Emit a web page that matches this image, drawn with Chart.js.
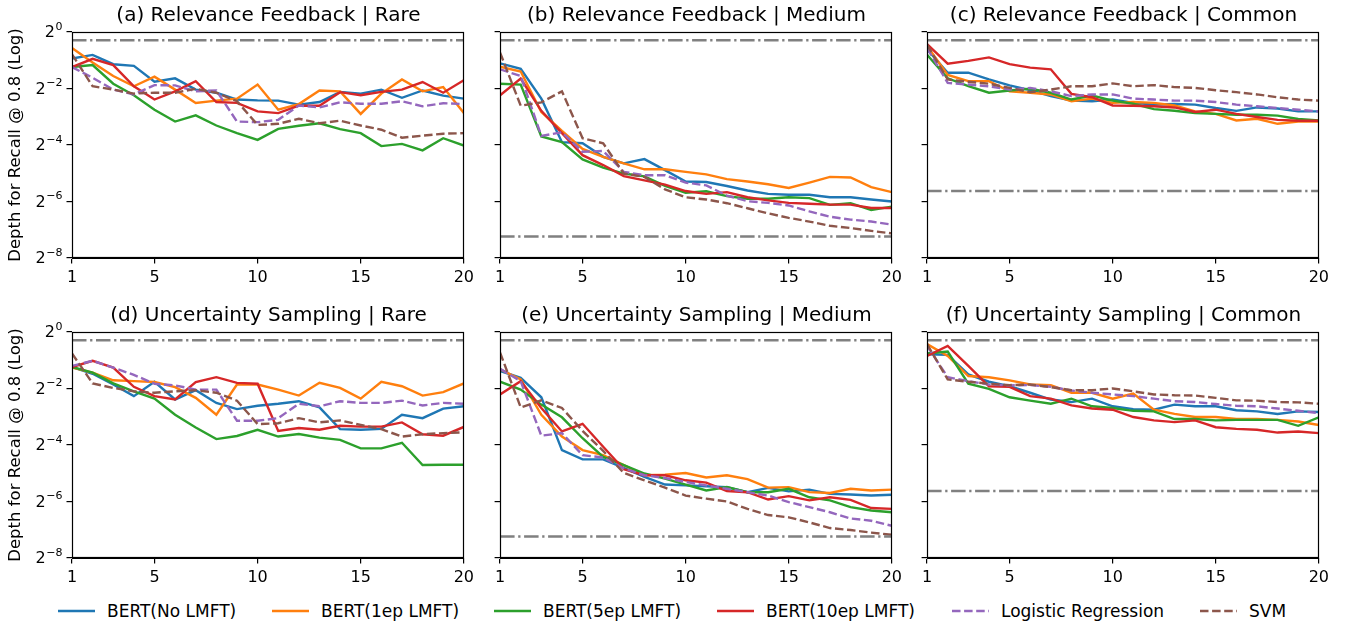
<!DOCTYPE html>
<html>
<head>
<meta charset="utf-8">
<script src="https://cdn.jsdelivr.net/npm/chart.js@4"></script>
<style>
  body { margin: 0; background: #fff; font-family: 'DejaVu Sans', sans-serif; }
  #wrap { position: relative; width: 1358px; height: 624px; }
  canvas { position: absolute; }
  .ptitle { position: absolute; font-size: 20px; line-height: 24px; text-align: center; color: #000; white-space: nowrap; }
  .leg { position: absolute; top: 601px; height: 20px; font-size: 17px; line-height: 20px; color: #000; white-space: nowrap; }
  .leg svg { position: absolute; left: 0; top: 0; }
  .leg span { position: absolute; left: 49px; top: 0; }
</style>
</head>
<body>
<div id="wrap"></div>
<script>
// rounds on the x axis
const rounds = [1, 2, 3, 4, 5, 6, 7, 8, 9, 10, 11, 12, 13, 14, 15, 16, 17, 18, 19, 20];
const xTicks = [1, 5, 10, 15, 20];
// y values are log2(depth); tick labels are 2^exp
const yTicks = [-8, -6, -4, -2, 0];
const yTickExps = ['−8', '−6', '−4', '−2', '0'];

const seriesNames = ['BERT(No LMFT)', 'BERT(1ep LMFT)', 'BERT(5ep LMFT)', 'BERT(10ep LMFT)', 'Logistic Regression', 'SVM'];

// reference lines (log2)
const upperRef = -0.29;
const lowerRefMedium = -7.24;
const lowerRefCommon = -5.63;

// (a) Relevance Feedback | Rare
const aNo   = [-0.94,-0.81,-1.14,-1.20,-1.76,-1.64,-2.04,-2.15,-2.39,-2.42,-2.43,-2.57,-2.48,-2.12,-2.18,-2.04,-2.33,-2.07,-2.25,-2.36];
const a1ep  = [-0.57,-1.08,-1.56,-1.92,-1.58,-2.04,-2.51,-2.43,-2.36,-1.86,-2.75,-2.55,-2.07,-2.10,-2.90,-2.18,-1.68,-2.10,-1.95,-2.87];
const a5ep  = [-1.24,-1.17,-1.83,-2.24,-2.75,-3.17,-2.95,-3.31,-3.58,-3.82,-3.43,-3.32,-3.23,-3.44,-3.58,-4.04,-3.96,-4.19,-3.76,-4.02];
const a10ep = [-1.24,-0.95,-1.17,-1.92,-2.39,-2.10,-1.74,-2.48,-2.51,-2.81,-2.87,-2.61,-2.61,-2.13,-2.24,-2.12,-2.04,-1.77,-2.15,-1.71];
const aLr   = [-1.24,-1.62,-2.04,-2.21,-1.88,-1.89,-2.10,-2.07,-3.17,-3.19,-3.11,-2.60,-2.67,-2.49,-2.54,-2.54,-2.45,-2.63,-2.52,-2.55];
const aSvm  = [-0.79,-1.92,-2.04,-2.18,-2.15,-2.15,-2.01,-2.15,-2.45,-3.29,-3.25,-3.07,-3.23,-3.14,-3.31,-3.46,-3.74,-3.67,-3.60,-3.58];

// (b) Relevance Feedback | Medium
const bNo   = [-1.11,-1.30,-2.36,-3.90,-3.94,-4.42,-4.65,-4.50,-4.89,-5.29,-5.31,-5.45,-5.61,-5.73,-5.76,-5.76,-5.85,-5.85,-5.93,-6.00];
const b1ep  = [-1.23,-1.40,-2.83,-3.50,-4.14,-4.42,-4.65,-4.86,-4.86,-4.95,-5.04,-5.21,-5.29,-5.39,-5.52,-5.33,-5.13,-5.15,-5.49,-5.67];
const b5ep  = [-1.83,-1.86,-3.70,-3.90,-4.51,-4.80,-5.01,-5.11,-5.45,-5.69,-5.64,-5.81,-5.90,-5.90,-5.85,-5.88,-6.12,-6.06,-6.30,-6.18];
const b10ep = [-2.24,-1.65,-2.79,-3.58,-4.36,-4.71,-5.10,-5.25,-5.40,-5.63,-5.73,-5.67,-5.85,-5.96,-6.05,-6.08,-6.11,-6.11,-6.23,-6.23];
const bLr   = [-1.32,-1.56,-3.68,-3.55,-4.24,-4.21,-4.95,-5.07,-5.07,-5.33,-5.43,-5.79,-5.99,-6.05,-6.14,-6.35,-6.54,-6.64,-6.71,-6.82];
const bSvm  = [-0.73,-2.61,-2.49,-2.10,-3.76,-3.94,-5.01,-5.13,-5.57,-5.85,-5.93,-6.06,-6.24,-6.42,-6.58,-6.71,-6.86,-6.94,-7.04,-7.13];

// (c) Relevance Feedback | Common
const cNo   = [-0.61,-1.44,-1.44,-1.68,-1.89,-2.06,-2.27,-2.43,-2.45,-2.39,-2.51,-2.57,-2.55,-2.57,-2.69,-2.79,-2.67,-2.71,-2.81,-2.81];
const c1ep  = [-0.49,-1.52,-1.74,-1.74,-2.10,-2.15,-2.21,-2.45,-2.36,-2.51,-2.48,-2.51,-2.60,-2.81,-2.90,-3.13,-3.07,-3.25,-3.17,-3.17];
const c5ep  = [-0.81,-1.64,-1.92,-2.15,-2.07,-2.01,-2.15,-2.39,-2.25,-2.43,-2.54,-2.73,-2.79,-2.87,-2.90,-2.93,-2.93,-2.96,-3.08,-3.13];
const c10ep = [-0.43,-1.12,-1.02,-0.90,-1.14,-1.26,-1.32,-2.19,-2.31,-2.60,-2.61,-2.63,-2.67,-2.83,-2.75,-2.90,-3.01,-3.11,-3.14,-3.14];
const cLr   = [-0.57,-1.80,-1.86,-1.92,-2.04,-1.98,-2.10,-2.27,-2.21,-2.21,-2.36,-2.39,-2.43,-2.43,-2.48,-2.57,-2.63,-2.69,-2.75,-2.81];
const cSvm  = [-0.45,-1.68,-1.76,-1.83,-1.98,-2.13,-2.04,-1.92,-1.92,-1.82,-1.92,-1.88,-1.95,-1.98,-2.06,-2.13,-2.21,-2.31,-2.39,-2.43];

// (d) Uncertainty Sampling | Rare
const dNo   = [-1.24,-1.48,-1.86,-2.27,-1.76,-2.39,-2.06,-2.51,-2.73,-2.61,-2.54,-2.45,-2.67,-3.44,-3.46,-3.43,-2.93,-3.05,-2.71,-2.63];
const d1ep  = [-1.26,-1.44,-1.71,-1.74,-1.77,-1.95,-2.33,-2.93,-1.86,-1.86,-2.04,-2.25,-1.80,-1.98,-2.36,-1.76,-1.92,-2.25,-2.13,-1.82];
const d5ep  = [-1.24,-1.44,-1.82,-2.10,-2.36,-2.93,-3.38,-3.79,-3.68,-3.46,-3.70,-3.61,-3.74,-3.82,-4.12,-4.12,-3.92,-4.71,-4.70,-4.70];
const d10ep = [-1.24,-1.02,-1.26,-1.94,-2.27,-2.39,-1.77,-1.60,-1.80,-1.83,-3.50,-3.40,-3.46,-3.32,-3.35,-3.35,-3.20,-3.62,-3.67,-3.36];
const dLr   = [-1.20,-1.02,-1.26,-1.52,-1.83,-1.89,-2.04,-2.04,-3.14,-3.14,-3.05,-2.54,-2.63,-2.45,-2.51,-2.51,-2.43,-2.60,-2.51,-2.54];
const dSvm  = [-0.76,-1.82,-1.98,-2.10,-2.15,-2.10,-2.06,-2.15,-2.43,-3.26,-3.23,-3.05,-3.20,-3.13,-3.29,-3.44,-3.70,-3.62,-3.58,-3.55];

// (e) Uncertainty Sampling | Medium
const eNo   = [-1.38,-1.62,-2.31,-4.18,-4.51,-4.51,-4.81,-5.13,-5.40,-5.43,-5.46,-5.49,-5.67,-5.52,-5.64,-5.58,-5.73,-5.75,-5.79,-5.76];
const e1ep  = [-1.32,-1.68,-2.93,-3.70,-4.18,-4.36,-4.71,-5.07,-5.05,-4.99,-5.15,-5.07,-5.21,-5.51,-5.49,-5.67,-5.70,-5.55,-5.61,-5.58];
const e5ep  = [-1.76,-2.04,-2.57,-3.02,-3.76,-4.42,-4.71,-5.01,-5.19,-5.40,-5.61,-5.49,-5.67,-5.67,-5.55,-5.85,-5.96,-6.20,-6.32,-6.38];
const e10ep = [-2.21,-1.74,-2.69,-3.52,-3.25,-4.06,-4.86,-5.07,-5.07,-5.25,-5.33,-5.63,-5.67,-5.93,-5.81,-5.96,-5.85,-5.94,-6.23,-6.26];
const eLr   = [-1.30,-1.74,-3.67,-3.58,-4.36,-4.44,-4.83,-5.07,-5.17,-5.31,-5.43,-5.55,-5.67,-5.79,-6.02,-6.20,-6.38,-6.60,-6.68,-6.86];
const eSvm  = [-0.73,-2.67,-2.42,-2.69,-3.50,-4.21,-4.99,-5.25,-5.51,-5.79,-5.90,-6.00,-6.26,-6.48,-6.56,-6.74,-6.94,-7.01,-7.10,-7.18];

// (f) Uncertainty Sampling | Common
const fNo   = [-0.79,-0.81,-1.50,-1.76,-1.92,-2.15,-2.39,-2.48,-2.36,-2.63,-2.73,-2.75,-2.57,-2.63,-2.63,-2.77,-2.81,-2.90,-2.81,-2.83];
const f1ep  = [-0.43,-0.85,-1.56,-1.60,-1.71,-1.86,-1.88,-2.15,-2.15,-2.36,-2.18,-2.75,-2.90,-3.01,-3.01,-3.08,-3.08,-3.11,-3.17,-3.29];
const f5ep  = [-0.76,-0.69,-1.83,-2.01,-2.31,-2.43,-2.54,-2.36,-2.63,-2.69,-2.79,-2.81,-3.08,-3.08,-3.13,-3.11,-3.11,-3.11,-3.32,-3.02];
const f10ep = [-0.85,-0.49,-1.20,-1.92,-1.94,-2.27,-2.36,-2.60,-2.71,-2.75,-3.01,-3.13,-3.19,-3.13,-3.37,-3.43,-3.46,-3.56,-3.52,-3.58];
const fLr   = [-0.49,-1.60,-1.74,-1.86,-1.89,-1.88,-1.94,-2.07,-2.15,-2.21,-2.27,-2.36,-2.45,-2.48,-2.55,-2.61,-2.63,-2.71,-2.79,-2.87];
const fSvm  = [-0.43,-1.68,-1.76,-1.83,-1.88,-1.86,-1.95,-2.06,-2.06,-2.00,-2.10,-2.21,-2.24,-2.25,-2.33,-2.42,-2.43,-2.48,-2.49,-2.54];

const colors = ['#1f77b4', '#ff7f0e', '#2ca02c', '#d62728', '#9467bd', '#8c564b'];
const dashes = [[], [], [], [], [8.5, 3.6], [8.5, 3.6]];
const dashDot = [14.5, 3.6, 2.3, 3.6];

const panels = [
  { title: '(a) Relevance Feedback | Rare',      col: 0, row: 0, series: [aNo, a1ep, a5ep, a10ep, aLr, aSvm], lower: null },
  { title: '(b) Relevance Feedback | Medium',    col: 1, row: 0, series: [bNo, b1ep, b5ep, b10ep, bLr, bSvm], lower: lowerRefMedium },
  { title: '(c) Relevance Feedback | Common',    col: 2, row: 0, series: [cNo, c1ep, c5ep, c10ep, cLr, cSvm], lower: lowerRefCommon },
  { title: '(d) Uncertainty Sampling | Rare',    col: 0, row: 1, series: [dNo, d1ep, d5ep, d10ep, dLr, dSvm], lower: null },
  { title: '(e) Uncertainty Sampling | Medium',  col: 1, row: 1, series: [eNo, e1ep, e5ep, e10ep, eLr, eSvm], lower: lowerRefMedium },
  { title: '(f) Uncertainty Sampling | Common',  col: 2, row: 1, series: [fNo, f1ep, f5ep, f10ep, fLr, fSvm], lower: lowerRefCommon }
];

const plotLefts = [72, 500, 927];
const plotTops = [32, 332];
const plotW = 393, plotH = 226;
const padTop = 10, padRight = 14, xAxisH = 34;
const tickLen = 5.5;

Chart.defaults.font.family = "'DejaVu Sans', sans-serif";
Chart.defaults.color = '#000';

// black box round the plot area, like matplotlib spines
const framePlugin = {
  id: 'frame',
  afterDraw(chart) {
    const a = chart.chartArea;
    const ctx = chart.ctx;
    ctx.save();
    ctx.strokeStyle = '#000';
    ctx.lineWidth = 1.2;
    ctx.strokeRect(Math.round(a.left) + 0.5, Math.round(a.top) + 0.5,
                   Math.round(a.right - a.left) - 1, Math.round(a.bottom - a.top) - 1);
    ctx.restore();
  }
};

// y tick labels written as 2 with a raised exponent
const powLabels = {
  id: 'powLabels',
  afterDraw(chart, args, opts) {
    if (!opts.show) return;
    const ys = chart.scales.y;
    const ctx = chart.ctx;
    const right = chart.chartArea.left - tickLen - 4;
    ctx.save();
    ctx.fillStyle = '#000';
    ctx.textBaseline = 'middle';
    yTicks.forEach((v, i) => {
      const y = ys.getPixelForValue(v);
      ctx.font = "11px 'DejaVu Sans'";
      const wSup = ctx.measureText(yTickExps[i]).width;
      ctx.font = "16px 'DejaVu Sans'";
      const wBase = ctx.measureText('2').width;
      const x0 = right - wSup - wBase - 0.5;
      ctx.textAlign = 'left';
      ctx.fillText('2', x0, y + 1);
      ctx.font = "11px 'DejaVu Sans'";
      ctx.fillText(yTickExps[i], x0 + wBase + 0.5, y - 5);
    });
    ctx.restore();
  }
};

const wrap = document.getElementById('wrap');

panels.forEach(p => {
  const isLeft = p.col === 0;
  const yAxisW = isLeft ? 72 : 10;
  const left = plotLefts[p.col] - yAxisW;
  const top = plotTops[p.row] - padTop;

  const cv = document.createElement('canvas');
  cv.width = yAxisW + plotW + padRight;
  cv.height = padTop + plotH + xAxisH;
  cv.style.left = left + 'px';
  cv.style.top = top + 'px';
  wrap.appendChild(cv);

  const t = document.createElement('div');
  t.className = 'ptitle';
  t.textContent = p.title;
  t.style.left = plotLefts[p.col] + 'px';
  t.style.width = plotW + 'px';
  t.style.top = (plotTops[p.row] - 30) + 'px';
  wrap.appendChild(t);

  const datasets = p.series.map((vals, i) => ({
    label: seriesNames[i],
    data: rounds.map((r, k) => ({ x: r, y: vals[k] })),
    borderColor: colors[i],
    borderWidth: 2.4,
    borderDash: dashes[i],
    pointRadius: 0,
    tension: 0,
    fill: false,
    order: 10 - i
  }));

  const refs = [upperRef];
  if (p.lower !== null) refs.push(p.lower);
  refs.forEach(v => {
    datasets.push({
      label: 'ref',
      data: [{ x: rounds[0], y: v }, { x: rounds[rounds.length - 1], y: v }],
      borderColor: '#808080',
      borderWidth: 2.4,
      borderDash: dashDot,
      pointRadius: 0,
      order: 1
    });
  });

  new Chart(cv, {
    type: 'line',
    data: { datasets },
    options: {
      responsive: false,
      animation: false,
      events: [],
      layout: { padding: { top: padTop, right: padRight, left: 0, bottom: 0 } },
      plugins: {
        legend: { display: false },
        tooltip: { enabled: false },
        powLabels: { show: isLeft }
      },
      scales: {
        x: {
          type: 'linear',
          min: 1,
          max: 20,
          afterBuildTicks: s => { s.ticks = xTicks.map(v => ({ value: v })); },
          afterFit: s => { s.height = xAxisH; },
          grid: { drawOnChartArea: false, drawTicks: true, tickLength: tickLen, color: '#000', lineWidth: 1.2 },
          border: { display: true, color: '#000' },
          ticks: { font: { size: 16 }, padding: 5, maxRotation: 0, callback: v => String(v) }
        },
        y: {
          type: 'linear',
          min: -8,
          max: 0,
          afterBuildTicks: s => { s.ticks = yTicks.map(v => ({ value: v })); },
          afterFit: s => { s.width = yAxisW; },
          grid: { drawOnChartArea: false, drawTicks: true, tickLength: tickLen, color: '#000', lineWidth: 1.2 },
          border: { display: true, color: '#000' },
          ticks: { display: false },
          title: {
            display: isLeft,
            text: 'Depth for Recall @ 0.8 (Log)',
            font: { size: 16.5 },
            padding: { top: 6, bottom: 2 }
          }
        }
      }
    },
    plugins: [framePlugin, powLabels]
  });
});

// legend row
const legendX = [58, 272, 494, 717, 952, 1200];
seriesNames.forEach((name, i) => {
  const d = document.createElement('div');
  d.className = 'leg';
  d.style.left = legendX[i] + 'px';
  const dash = dashes[i].length ? ' stroke-dasharray="' + dashes[i].join(' ') + '"' : '';
  d.innerHTML = '<svg width="38" height="20"><line x1="0" y1="10" x2="37" y2="10" stroke="' + colors[i] +
    '" stroke-width="2.4"' + dash + '/></svg>';
  const s = document.createElement('span');
  s.textContent = name;
  d.appendChild(s);
  wrap.appendChild(d);
});
</script>
</body>
</html>
